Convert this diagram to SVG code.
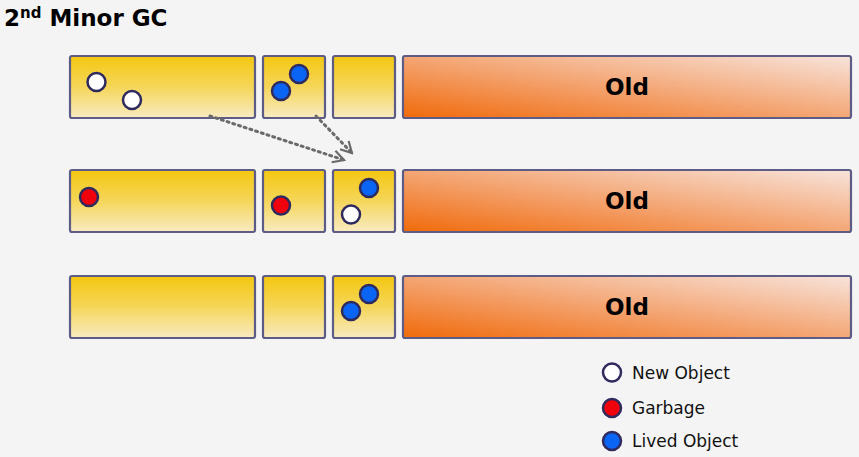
<svg xmlns="http://www.w3.org/2000/svg" width="859" height="457" viewBox="0 0 859 457">
<defs>
<linearGradient id="yel" x1="0" y1="0" x2="0" y2="1">
<stop offset="0" stop-color="#F4C710"/>
<stop offset="0.5" stop-color="#F5D65A"/>
<stop offset="1" stop-color="#F8EBC2"/>
</linearGradient>
<linearGradient id="org" x1="0" y1="1" x2="1" y2="0">
<stop offset="0" stop-color="#F06A0A"/>
<stop offset="0.4" stop-color="#F39A60"/>
<stop offset="1" stop-color="#F7E4DC"/>
</linearGradient>
<marker id="ah" markerWidth="14" markerHeight="14" refX="12" refY="7" orient="auto" markerUnits="userSpaceOnUse">
<path d="M1,1 L12,7 L1,13" fill="none" stroke="#6a6a6a" stroke-width="2.2"/>
</marker>
<style>
.y{fill:url(#yel);stroke:#5C5C86;stroke-width:2.2}
.o{fill:url(#org);stroke:#5C5C86;stroke-width:2.2}
.ob{stroke:#2E2A5E;stroke-width:2.5}
.w{fill:#FFFFFF}
.r{fill:#F0000C}
.b{fill:#0A64F4}
.lbl{font-family:"DejaVu Sans",Verdana,sans-serif;font-weight:bold;font-size:23px;fill:#000;text-anchor:middle}
.leg{font-family:"DejaVu Sans",Verdana,sans-serif;font-size:17px;fill:#111}
.con{fill:none;stroke:#6a6a6a;stroke-width:3;stroke-dasharray:2 4;stroke-linecap:round}
</style>
</defs>
<rect width="859" height="457" fill="#F4F4F4"/>
<text x="4" y="26" font-family="'DejaVu Sans',Verdana,sans-serif" font-weight="bold" font-size="23" fill="#000">2<tspan font-size="15" dy="-8">nd</tspan><tspan dy="8"> Minor GC</tspan></text>

<g id="row1">
<g id="r1-eden"><rect class="y" x="70" y="56" width="185" height="62" rx="2"/>
<circle class="ob w" cx="96.5" cy="82" r="9"/><circle class="ob w" cx="132" cy="100" r="9"/></g>
<g id="r1-s0"><rect class="y" x="263" y="56" width="62" height="62" rx="2"/>
<circle class="ob b" cx="299" cy="74" r="9"/><circle class="ob b" cx="281" cy="91" r="9"/></g>
<g id="r1-s1"><rect class="y" x="333" y="56" width="62" height="62" rx="2"/></g>
<g id="r1-old"><rect class="o" x="403" y="56" width="448" height="62" rx="2"/><text class="lbl" x="627" y="95">Old</text></g>
</g>

<g id="row2">
<g id="r2-eden"><rect class="y" x="70" y="170" width="185" height="62" rx="2"/>
<circle class="ob r" cx="89" cy="197" r="9"/></g>
<g id="r2-s0"><rect class="y" x="263" y="170" width="62" height="62" rx="2"/>
<circle class="ob r" cx="281" cy="205.5" r="9"/></g>
<g id="r2-s1"><rect class="y" x="333" y="170" width="62" height="62" rx="2"/>
<circle class="ob b" cx="369" cy="188" r="9"/><circle class="ob w" cx="351" cy="214.5" r="9"/></g>
<g id="r2-old"><rect class="o" x="403" y="170" width="448" height="62" rx="2"/><text class="lbl" x="627" y="209">Old</text></g>
</g>

<g id="row3">
<g id="r3-eden"><rect class="y" x="70" y="276" width="185" height="62" rx="2"/></g>
<g id="r3-s0"><rect class="y" x="263" y="276" width="62" height="62" rx="2"/></g>
<g id="r3-s1"><rect class="y" x="333" y="276" width="62" height="62" rx="2"/>
<circle class="ob b" cx="369" cy="294" r="9"/><circle class="ob b" cx="351" cy="311" r="9"/></g>
<g id="r3-old"><rect class="o" x="403" y="276" width="448" height="62" rx="2"/><text class="lbl" x="627" y="315">Old</text></g>
</g>

<g id="connectors">
<path class="con" d="M210,116 L344,160" marker-end="url(#ah)"/>
<path class="con" d="M316,116 L352,153" marker-end="url(#ah)"/>
</g>

<g id="legend">
<circle class="ob w" cx="612" cy="372.5" r="9"/><text class="leg" x="632" y="379">New Object</text>
<circle class="ob r" cx="612" cy="408" r="9"/><text class="leg" x="632" y="414">Garbage</text>
<circle class="ob b" cx="612" cy="441" r="9"/><text class="leg" x="632" y="447">Lived Object</text>
</g>
</svg>
